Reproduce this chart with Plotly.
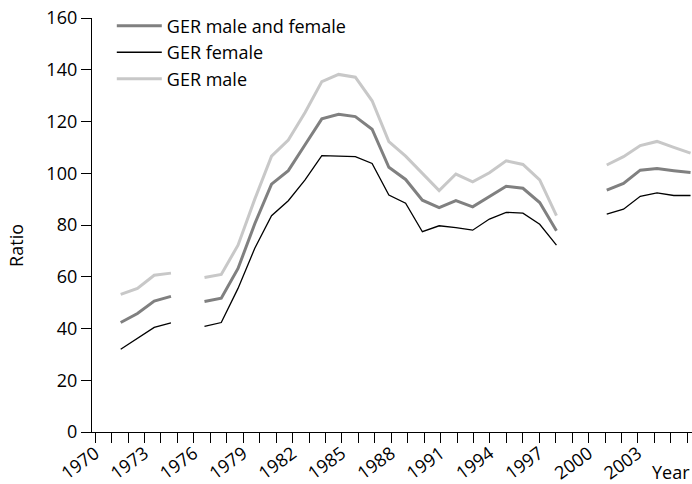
import plotly.graph_objects as go

years = list(range(1972, 2007))

ger_total = [42.3, 45.8, 50.6, 52.4, None, 50.4, 51.7, 63.2, 80.5, 95.8,
             101.0, 111.0, 121.0, 122.8, 121.9, 117.0, 102.3, 97.6, 89.6, 86.7,
             89.4, 87.0, 90.9, 95.0, 94.2, 88.7, 77.8, None, None, 93.5,
             96.1, 101.2, 101.8, 101.0, 100.3]

ger_female = [32.0, 36.1, 40.4, 42.2, None, 40.8, 42.3, 55.5, 71.0, 83.6,
              89.4, 97.4, 106.8, 106.6, 106.4, 103.8, 91.6, 88.4, 77.4, 79.7,
              79.0, 78.0, 82.3, 84.9, 84.6, 80.3, 72.2, None, None, 84.2,
              86.1, 91.1, 92.4, 91.4, 91.4]

ger_male = [53.2, 55.5, 60.6, 61.4, None, 59.7, 60.9, 72.2, 90.0, 106.6,
            112.8, 123.5, 135.4, 138.2, 137.1, 128.0, 112.2, 106.6, 100.0, 93.3,
            99.7, 96.7, 100.2, 104.8, 103.4, 97.4, 83.6, None, None, 103.2,
            106.4, 110.7, 112.3, 110.0, 107.8]

tick_labels_every = 3

FONT = "Open Sans"
FS = 18

fig = go.Figure()
fig.add_trace(go.Scatter(x=years, y=ger_total, mode="lines", name="GER male and female",
                         line=dict(color="#808080", width=3)))
fig.add_trace(go.Scatter(x=years, y=ger_female, mode="lines", name="GER female",
                         line=dict(color="#000000", width=1.3)))
fig.add_trace(go.Scatter(x=years, y=ger_male, mode="lines", name="GER male",
                         line=dict(color="#c8c8c8", width=3)))
# invisible carrier trace so the year tick axis (x2) is drawn
fig.add_trace(go.Scatter(x=years, y=ger_total, xaxis="x2", mode="lines",
                         line=dict(width=0, color="rgba(0,0,0,0)"),
                         showlegend=False, hoverinfo="skip"))

fig.update_layout(
    width=692, height=484,
    margin=dict(l=92, r=0, t=18, b=52, autoexpand=False),
    paper_bgcolor="white", plot_bgcolor="white",
    font=dict(family=FONT, size=FS, color="black"),
    showlegend=True,
    legend=dict(x=0.033, y=1.025, xanchor="left", yanchor="top",
                bgcolor="rgba(0,0,0,0)", itemwidth=45, tracegroupgap=0,
                font=dict(family=FONT, size=FS, color="black")),
    xaxis=dict(range=[1970.288, 2006.087], showline=False, showticklabels=False,
               ticks="", showgrid=False, zeroline=False, automargin=False),
    xaxis2=dict(overlaying="x", anchor="y", side="bottom", automargin=False,
                range=[1969.805, 2006.289], showline=True, linecolor="black", linewidth=1.3,
                tick0=1970, dtick=tick_labels_every, ticks="outside", ticklen=10,
                tickwidth=1.3, tickcolor="black", tickangle=-36, ticklabelstandoff=-7,
                tickfont=dict(family=FONT, size=FS, color="black"),
                minor=dict(dtick=1, ticks="outside", ticklen=10, tickwidth=1.3, tickcolor="black"),
                showgrid=False, zeroline=False),
    yaxis=dict(range=[0, 160], dtick=20, showline=True, linecolor="black", linewidth=1.3,
               ticks="outside", ticklen=10, tickwidth=1.3, tickcolor="black",
               tickfont=dict(family=FONT, size=FS, color="black"), automargin=False,
               showgrid=False, zeroline=False),
    annotations=[
        dict(text="Ratio", textangle=-90, xref="paper", yref="paper", x=-0.128, y=0.45,
             xanchor="center", yanchor="middle", showarrow=False,
             font=dict(family=FONT, size=FS, color="black")),
        dict(text="Year", xref="paper", yref="paper", x=1.0, y=-0.097,
             xanchor="right", yanchor="middle", showarrow=False,
             font=dict(family=FONT, size=FS, color="black")),
    ],
)

fig.write_html("out.html", config={"displayModeBar": False},
               post_script="document.body.style.margin='0px';")
